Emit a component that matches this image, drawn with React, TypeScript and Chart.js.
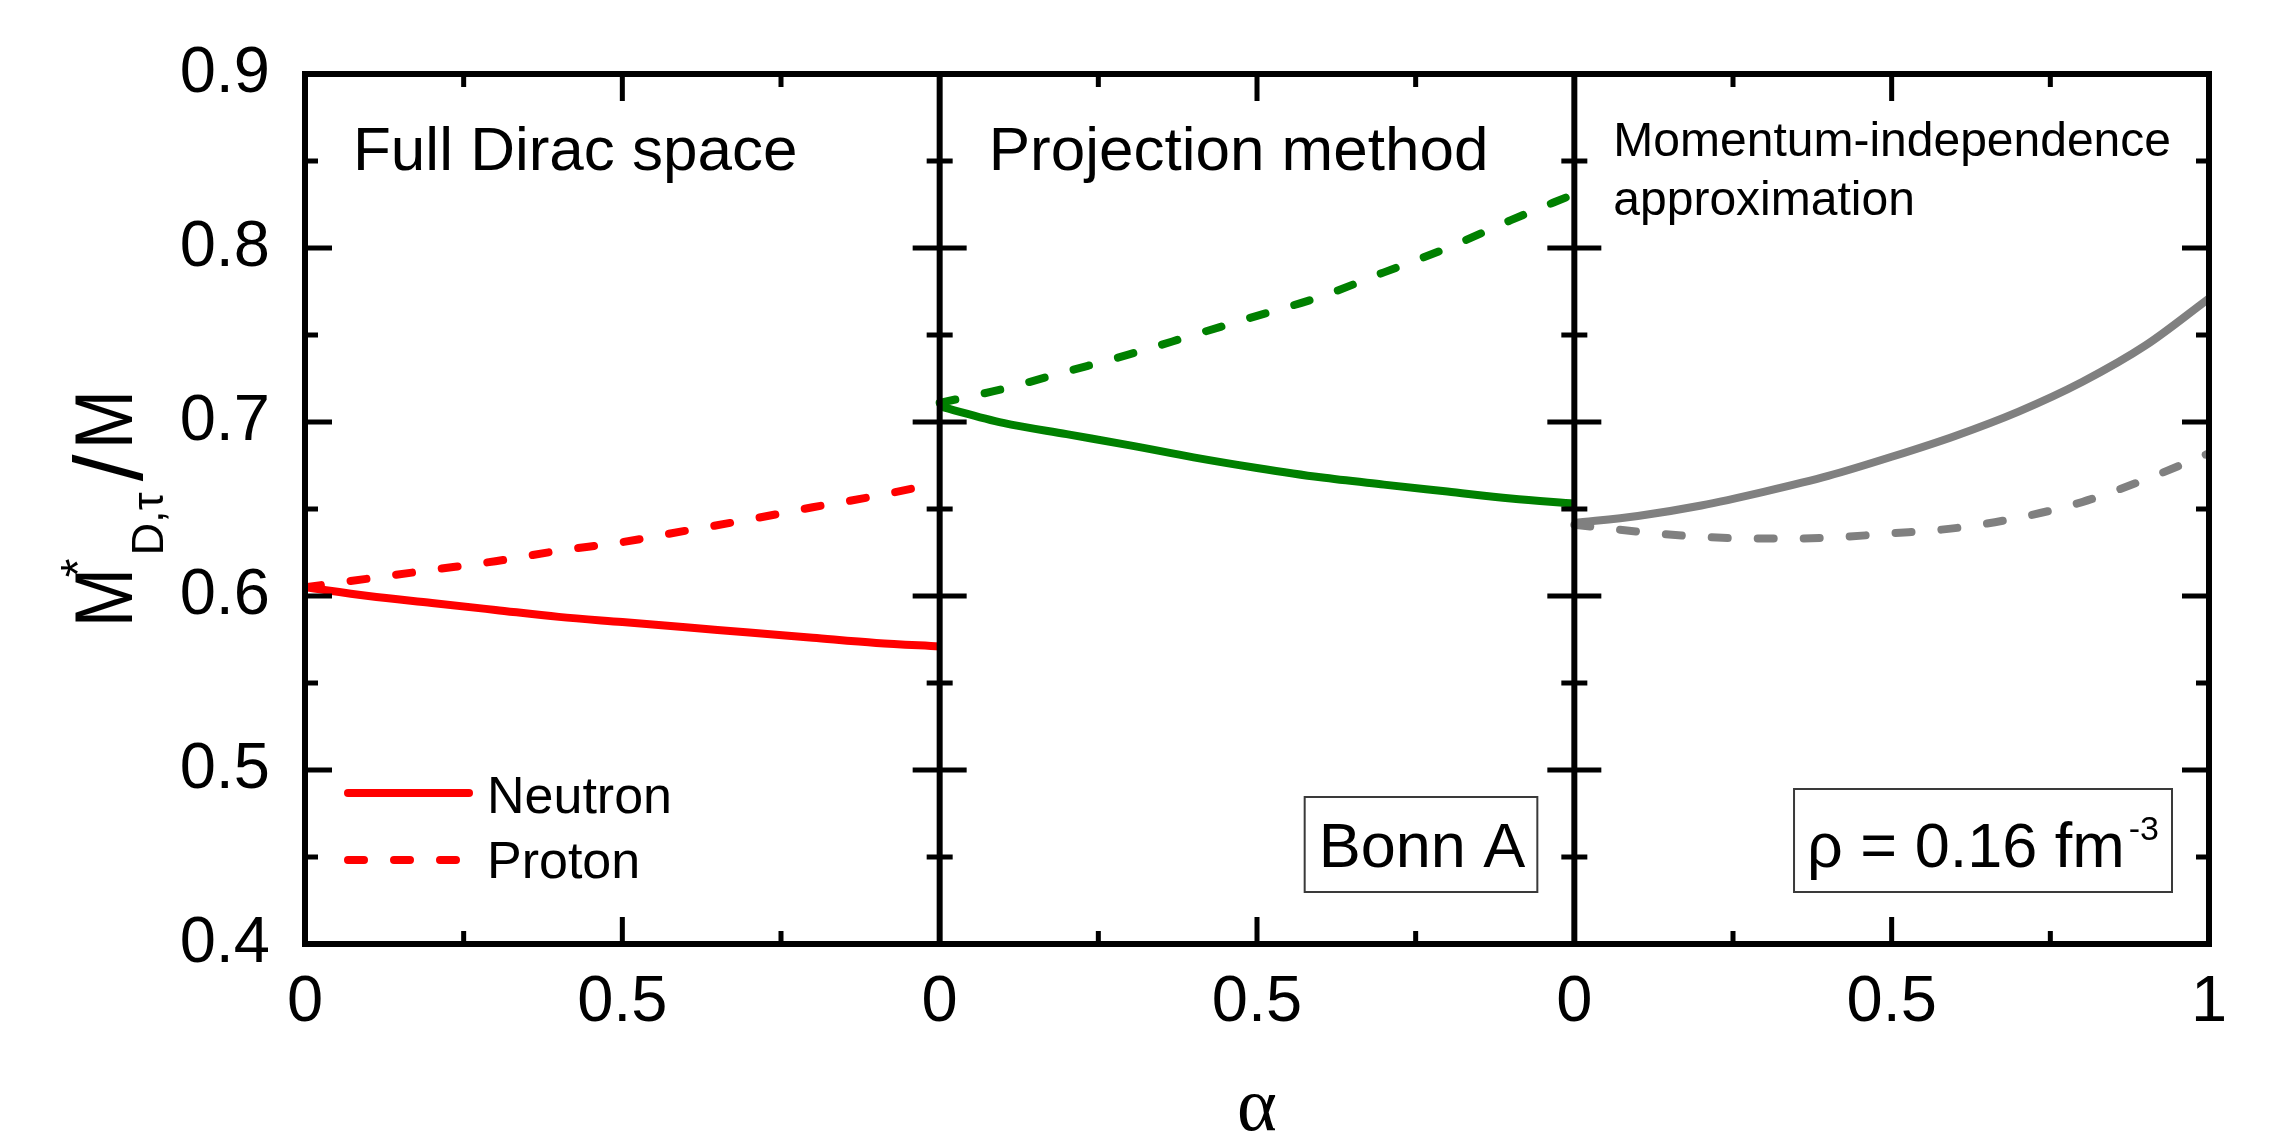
import React, { useEffect, useRef } from "react";
import { Chart, registerables } from "chart.js";

Chart.register(...registerables);

// ---- data ----
const alphaValues = [0, 0.1, 0.2, 0.3, 0.4, 0.5, 0.6, 0.7, 0.8, 0.9, 1.0];
const fullDiracNeutron = [0.605, 0.6, 0.596, 0.592, 0.588, 0.585, 0.582, 0.579, 0.576, 0.573, 0.571];
const fullDiracProton = [0.605, 0.61, 0.615, 0.62, 0.626, 0.631, 0.6375, 0.644, 0.651, 0.6575, 0.665];
const projectionNeutron = [0.709, 0.6995, 0.693, 0.6866, 0.6797, 0.6736, 0.6682, 0.664, 0.66, 0.656, 0.653];
const projectionProton = [0.711, 0.719, 0.729, 0.739, 0.75, 0.761, 0.772, 0.786, 0.8, 0.816, 0.831];
const momentumNeutron = [0.642, 0.646, 0.652, 0.66, 0.669, 0.68, 0.692, 0.706, 0.723, 0.744, 0.771];
const momentumProton = [0.641, 0.637, 0.634, 0.633, 0.6335, 0.636, 0.639, 0.645, 0.654, 0.667, 0.682];

const xTickLabels = ["0", "0.5", "0", "0.5", "0", "0.5", "1"];
const yMajorTicks = [0.4, 0.5, 0.6, 0.7, 0.8, 0.9];
const yMinorTicks = [0.45, 0.55, 0.65, 0.75, 0.85];
const xMinorOffsets = [0.25, 0.75];
const xMajorOffsets = [0.5];
const panelOffsets = [0, 1, 2];
const legendLabels = ["Neutron", "Proton"];

const RED = "#ff0000";
const GREEN = "#008000";
const GREY = "#808080";
const SANS = '"Liberation Sans", Arial, Helvetica, sans-serif';
const SERIF = '"Liberation Serif", "Times New Roman", serif';
const DASH = [16, 30];
const LW = 8;

const toPoints = (vals: number[], offset: number) =>
  vals.map((v, i) => ({ x: alphaValues[i] + offset, y: v }));

const lineDs = (label: string, vals: number[], offset: number, color: string, dashed: boolean) => ({
  label,
  data: toPoints(vals, offset),
  borderColor: color,
  backgroundColor: color,
  borderWidth: LW,
  borderDash: dashed ? DASH : [],
  borderCapStyle: dashed ? "round" : "butt",
  pointRadius: 0,
  cubicInterpolationMode: "monotone",
  fill: false,
});

const decorPlugin = {
  id: "decor",
  afterDatasetsDraw(chart: any) {
    const { ctx, chartArea: a, scales } = chart;
    const xs = scales.x;
    const ys = scales.y;
    ctx.save();
    ctx.strokeStyle = "#000";
    ctx.lineWidth = 5;
    ctx.lineCap = "butt";
    const MAJ = 27;
    const MIN = 13;
    [0, 1, 2, 3].forEach((p) => {
      const x = xs.getPixelForValue(p);
      const drawY = (v: number, len: number) => {
        const y = ys.getPixelForValue(v);
        ctx.beginPath();
        const l = p === 3 ? 0 : len;
        const r = p === 0 ? 0 : len;
        ctx.moveTo(x - r, y);
        ctx.lineTo(x + l, y);
        ctx.stroke();
      };
      yMajorTicks.forEach((v) => drawY(v, MAJ));
      yMinorTicks.forEach((v) => drawY(v, MIN));
    });
    panelOffsets.forEach((p) => {
      const drawX = (off: number, len: number) => {
        const x = xs.getPixelForValue(p + off);
        ctx.beginPath();
        ctx.moveTo(x, a.bottom);
        ctx.lineTo(x, a.bottom - len);
        ctx.moveTo(x, a.top);
        ctx.lineTo(x, a.top + len);
        ctx.stroke();
      };
      xMajorOffsets.forEach((o) => drawX(o, MAJ));
      xMinorOffsets.forEach((o) => drawX(o, MIN));
    });
    ctx.lineWidth = 6;
    ctx.strokeRect(a.left, a.top, a.right - a.left, a.bottom - a.top);
    [1, 2].forEach((p) => {
      const x = xs.getPixelForValue(p);
      ctx.beginPath();
      ctx.moveTo(x, a.top);
      ctx.lineTo(x, a.bottom);
      ctx.stroke();
    });
    ctx.restore();
  },
  afterDraw(chart: any) {
    const { ctx, chartArea: a, scales } = chart;
    const xs = scales.x;
    const p0 = xs.getPixelForValue(0);
    const p1 = xs.getPixelForValue(1);
    const p2 = xs.getPixelForValue(2);
    const p3 = xs.getPixelForValue(3);
    ctx.save();
    ctx.fillStyle = "#000";
    ctx.textAlign = "left";
    ctx.textBaseline = "alphabetic";

    // panel titles
    ctx.font = `62px ${SANS}`;
    ctx.fillText("Full Dirac space", p0 + 48, a.top + 96);
    ctx.fillText("Projection method", p1 + 49, a.top + 96);
    ctx.font = `48px ${SANS}`;
    ctx.fillText("Momentum-independence", p2 + 39, a.top + 82);
    ctx.fillText("approximation", p2 + 39, a.top + 141);

    // legend
    ctx.strokeStyle = RED;
    ctx.lineWidth = LW;
    ctx.lineCap = "round";
    ctx.beginPath();
    ctx.moveTo(p0 + 43, a.bottom - 151);
    ctx.lineTo(p0 + 164, a.bottom - 151);
    ctx.stroke();
    ctx.setLineDash(DASH);
    ctx.beginPath();
    ctx.moveTo(p0 + 43, a.bottom - 84);
    ctx.lineTo(p0 + 152, a.bottom - 84);
    ctx.stroke();
    ctx.setLineDash([]);
    ctx.font = `52px ${SANS}`;
    ctx.fillText(legendLabels[0], p0 + 182, a.bottom - 131);
    ctx.fillText(legendLabels[1], p0 + 182, a.bottom - 66);

    // boxes
    ctx.font = `63px ${SANS}`;
    ctx.strokeStyle = "#3a3a3a";
    ctx.lineWidth = 2;
    const bonn = "Bonn A";
    const bw = ctx.measureText(bonn).width;
    const bRight = p2 - 37;
    const bLeft = bRight - bw - 26;
    ctx.strokeRect(bLeft, a.bottom - 147, bRight - bLeft, 95);
    ctx.fillText(bonn, bLeft + 14, a.bottom - 77);

    const rho = "\u03c1 = 0.16 fm";
    const rw = ctx.measureText(rho).width;
    ctx.font = `34px ${SANS}`;
    const sup = "-3";
    const sw = ctx.measureText(sup).width;
    const rRight = p3 - 37;
    const rLeft = rRight - (rw + sw + 4) - 26;
    ctx.strokeRect(rLeft, a.bottom - 155, rRight - rLeft, 103);
    ctx.font = `63px ${SANS}`;
    ctx.fillText(rho, rLeft + 13, a.bottom - 77);
    ctx.font = `34px ${SANS}`;
    ctx.fillText(sup, rLeft + 13 + rw + 4, a.bottom - 104);

    // y axis title  M*_{D,tau}/M  (rotated)
    const cy = (a.top + a.bottom) / 2;
    ctx.save();
    ctx.translate(132, cy + 112);
    ctx.rotate(-Math.PI / 2);
    const piece = (t: string, size: number, u: number, v: number, hs: number, fam = SANS, fitW = 0) => {
      ctx.save();
      ctx.font = `${size}px ${fam}`;
      let s = hs;
      if (fitW > 0) s = fitW / ctx.measureText(t).width;
      ctx.translate(u, v);
      ctx.scale(s, 1);
      ctx.textAlign = "center";
      ctx.fillText(t, 0, 0);
      ctx.restore();
    };
    piece("M", 82, 23.5, 0, 0.87);
    piece("*", 48, 53, -38, 1);
    piece("D,\u03c4", 44, 97, 31, 1, SANS, 63);
    piece("/", 96, 153, 10, 1);
    piece("M", 82, 201.5, 0, 0.87);
    ctx.restore();

    // x axis title
    ctx.font = `76px ${SERIF}`;
    ctx.textAlign = "center";
    ctx.fillText("\u03b1", (a.left + a.right) / 2, a.bottom + 186);
    ctx.restore();
  },
};

export default function App() {
  const ref = useRef<HTMLCanvasElement | null>(null);
  useEffect(() => {
    document.body.style.margin = "0";
    document.body.style.overflow = "hidden";
    const canvas = ref.current;
    if (!canvas) return;
    const chart = new Chart(canvas, {
      type: "line",
      data: {
        datasets: [
          lineDs("Neutron FD", fullDiracNeutron, 0, RED, false),
          lineDs("Proton FD", fullDiracProton, 0, RED, true),
          lineDs("Neutron PM", projectionNeutron, 1, GREEN, false),
          lineDs("Proton PM", projectionProton, 1, GREEN, true),
          lineDs("Neutron MI", momentumNeutron, 2, GREY, false),
          lineDs("Proton MI", momentumProton, 2, GREY, true),
        ] as any,
      },
      options: {
        animation: false,
        responsive: false,
        devicePixelRatio: 1,
        layout: { padding: { left: 0, right: 66, top: 56, bottom: 0 } },
        plugins: { legend: { display: false }, tooltip: { enabled: false } },
        scales: {
          x: {
            type: "linear",
            min: 0,
            max: 3,
            grid: { display: false, drawTicks: false },
            border: { display: false },
            afterFit: (s: any) => {
              s.height = 191;
            },
            ticks: {
              stepSize: 0.5,
              autoSkip: false,
              maxRotation: 0,
              padding: 20,
              color: "#000",
              font: { family: SANS, size: 65 },
              callback: (_v: any, i: number) => xTickLabels[i],
            },
          },
          y: {
            type: "linear",
            min: 0.4,
            max: 0.9,
            grid: { display: false, drawTicks: false },
            border: { display: false },
            afterFit: (s: any) => {
              s.width = 305;
            },
            ticks: {
              stepSize: 0.1,
              padding: 35,
              color: "#000",
              font: { family: SANS, size: 65 },
              callback: (v: any) => Number(v).toFixed(1),
            },
          },
        },
      } as any,
      plugins: [decorPlugin],
    });
    return () => chart.destroy();
  }, []);
  return (
    <div style={{ width: 2275, height: 1135, position: "relative", background: "#fff" }}>
      <canvas ref={ref} width={2275} height={1135} style={{ display: "block" }} />
    </div>
  );
}
